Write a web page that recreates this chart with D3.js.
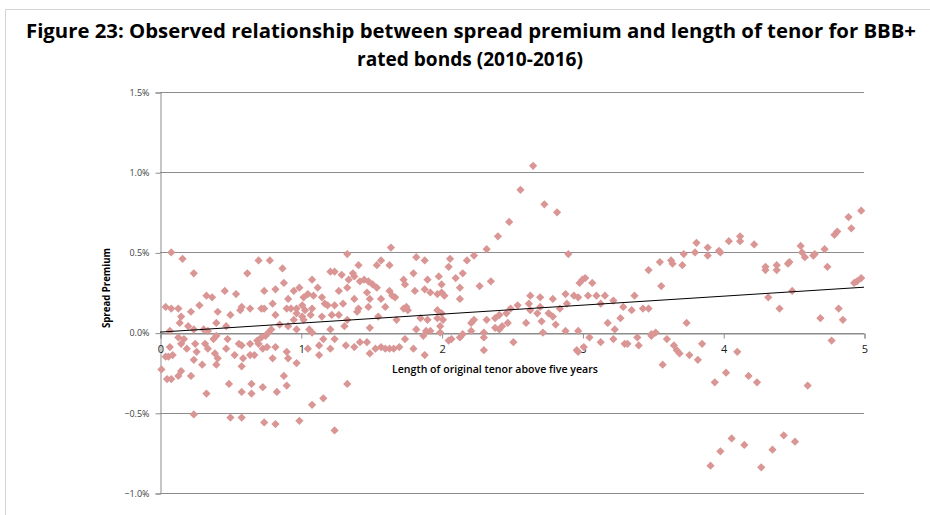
<!DOCTYPE html>
<html>
<head>
<meta charset="utf-8">
<script src="https://cdn.jsdelivr.net/npm/d3@7"></script>
<style>
  html, body { margin: 0; padding: 0; background: #ffffff; }
  svg { display: block; }
</style>
</head>
<body>
<div id="chart"></div>
<script>
// ---------- DATA ----------
const titleLines = [
  "Figure 23: Observed relationship between spread premium and length of tenor for BBB+",
  "rated bonds (2010-2016)"
];
const xAxisTitle = "Length of original tenor above five years";
const yAxisTitle = "Spread Premium";
const xTickValues = [0, 1, 2, 3, 4, 5];
const yTickValues = [-1.0, -0.5, 0.0, 0.5, 1.0, 1.5];   // percent
const trendTenor = [0, 5];
const trendPremium = [0.003, 0.283];                     // percent

// Observed bonds: [tenor above five years, spread premium in %]
const observations = [
  [0.08,0.50],[0.16,0.46],[0.24,0.37],[0.62,0.37],[0.46,0.26],[0.33,0.23],[0.37,0.22],[0.54,0.24],[0.04,0.16],[0.08,0.15],
  [0.13,0.15],[0.28,0.17],[0.22,0.13],[0.41,0.13],[0.58,0.16],[0.57,0.14],[0.64,0.15],[0.15,0.10],[0.50,0.11],[0.40,0.06],
  [0.47,0.04],[0.14,0.06],[0.07,0.01],[0.20,0.04],[0.24,0.02],[0.31,0.02],[0.34,0.01],[0.13,-0.03],[0.17,-0.04],[0.15,-0.07],
  [0.19,-0.10],[0.25,-0.07],[0.26,-0.12],[0.32,-0.07],[0.34,-0.10],[0.38,-0.04],[0.40,-0.02],[0.07,-0.09],[0.48,-0.04],[0.47,-0.10],
  [0.56,-0.07],[0.58,-0.08],[0.64,-0.07],[0.53,-0.14],[0.59,-0.16],[0.64,-0.14],[0.04,-0.15],[0.06,-0.15],[0.09,-0.14],[0.24,-0.17],
  [0.39,-0.13],[0.41,-0.16],[0.40,-0.20],[0.01,-0.23],[0.30,-0.20],[0.15,-0.24],[0.13,-0.27],[0.05,-0.29],[0.08,-0.29],[0.22,-0.27],
  [0.58,-0.21],[0.49,-0.32],[0.58,-0.37],[0.65,-0.38],[0.65,-0.32],[0.33,-0.38],[0.24,-0.51],[0.50,-0.53],[0.58,-0.53],
  [0.73,-0.34],[0.83,-0.37],[0.90,-0.33],[1.33,-0.32],[1.08,-0.45],[1.16,-0.41],[0.74,-0.56],[0.82,-0.57],[0.99,-0.55],[1.24,-0.61],
  [1.33,0.49],[0.70,0.45],[0.78,0.45],[0.87,0.40],[1.21,0.38],[1.24,0.38],[1.29,0.36],[0.88,0.31],[1.08,0.33],[0.74,0.26],
  [0.82,0.27],[0.95,0.26],[0.99,0.28],[1.12,0.28],[1.05,0.24],[1.09,0.23],[1.27,0.26],[1.33,0.28],[0.91,0.21],[1.02,0.22],
  [1.15,0.22],[0.72,0.15],[0.74,0.15],[0.80,0.18],[0.90,0.15],[0.93,0.15],[0.97,0.15],[1.01,0.17],[1.03,0.14],[1.08,0.15],
  [1.17,0.18],[1.19,0.17],[1.24,0.17],[1.30,0.18],[0.82,0.11],[0.97,0.12],[1.01,0.10],[1.07,0.11],[1.15,0.10],[1.22,0.11],
  [1.27,0.11],[1.02,0.08],[0.95,0.08],[0.85,0.05],[0.91,0.04],[0.97,0.02],[1.06,0.02],[1.21,0.02],[1.31,0.04],[0.72,-0.03],
  [0.75,-0.02],[0.77,0.00],[0.79,0.02],[0.69,-0.05],[0.70,-0.07],[0.67,-0.14],[0.73,-0.10],[0.76,-0.09],[0.82,-0.09],[0.80,-0.16],
  [0.90,-0.12],[0.91,-0.16],[0.97,-0.19],[1.05,-0.10],[1.08,0.00],[1.13,-0.08],[1.16,-0.04],[1.21,-0.10],[1.24,-0.04],[1.32,-0.08],
  [1.13,-0.14],[0.88,-0.27],
  [1.64,0.53],[1.82,0.47],[1.88,0.45],[1.54,0.42],[1.57,0.45],[1.63,0.42],[1.41,0.42],[1.80,0.37],[1.37,0.37],[1.38,0.35],
  [1.34,0.33],[1.42,0.32],[1.45,0.33],[1.48,0.32],[1.51,0.30],[1.73,0.33],[1.74,0.30],[1.90,0.33],[1.98,0.35],[2.00,0.30],
  [1.54,0.28],[1.63,0.26],[1.47,0.25],[1.49,0.21],[1.81,0.26],[1.88,0.27],[1.92,0.25],[1.97,0.24],[1.67,0.22],[1.65,0.23],
  [1.38,0.21],[1.57,0.21],[1.60,0.16],[1.75,0.16],[1.76,0.14],[1.73,0.15],[1.41,0.15],[1.40,0.13],[1.48,0.16],[1.55,0.10],
  [1.68,0.08],[1.85,0.09],[1.90,0.08],[1.97,0.09],[2.01,0.08],[1.97,0.14],[2.00,0.12],[1.33,0.08],[1.49,0.03],[1.82,0.02],
  [1.87,-0.02],[1.89,0.01],[1.92,0.01],[1.74,-0.04],[1.38,-0.09],[1.42,-0.06],[1.47,-0.06],[1.53,-0.10],[1.57,-0.09],[1.60,-0.10],
  [1.63,-0.10],[1.66,-0.10],[1.70,-0.09],[1.49,-0.13],[1.80,-0.10],[1.88,-0.14],
  [2.65,1.04],[2.56,0.89],[2.48,0.69],[2.40,0.60],[2.32,0.52],[2.23,0.48],[2.18,0.45],[2.06,0.46],[2.05,0.41],[2.10,0.34],
  [2.15,0.37],[2.27,0.29],[2.35,0.32],[2.00,0.25],[2.02,0.23],[2.13,0.28],[2.13,0.21],[2.63,0.23],[2.70,0.22],[2.54,0.17],
  [2.62,0.18],[2.63,0.14],[2.70,0.16],[2.49,0.15],[2.46,0.12],[2.41,0.11],[2.38,0.09],[2.32,0.08],[2.23,0.08],[2.21,0.06],
  [2.47,0.06],[2.60,0.06],[1.99,0.04],[2.43,0.04],[2.38,0.03],[2.41,0.02],[2.21,0.01],[2.30,0.00],[1.99,0.00],[2.30,-0.03],
  [2.15,-0.01],[2.13,-0.03],[2.07,-0.04],[2.05,-0.05],[2.51,-0.06],[2.30,-0.11],
  [2.73,0.80],[2.82,0.75],[2.90,0.49],[3.00,0.33],[3.02,0.34],[2.98,0.31],[3.07,0.31],[2.79,0.21],[2.88,0.24],[2.94,0.23],
  [2.97,0.22],[2.89,0.18],[3.04,0.23],[3.10,0.23],[3.16,0.23],[3.22,0.20],[3.13,0.18],[2.84,0.15],[2.68,0.12],[2.76,0.12],
  [2.79,0.10],[3.29,0.16],[3.35,0.14],[3.37,0.23],[2.71,0.07],[2.81,0.05],[3.27,0.09],[3.23,0.02],[3.18,0.06],[2.72,0.00],
  [2.88,0.01],[2.97,0.01],[3.05,-0.03],[3.13,-0.06],[3.22,-0.04],[3.30,-0.07],[3.32,-0.07],[2.96,-0.11],[3.01,-0.09],[2.97,-0.12],
  [3.81,0.56],[3.89,0.53],[3.97,0.51],[3.98,0.50],[4.04,0.57],[3.72,0.49],[3.80,0.50],[3.89,0.48],[3.63,0.45],[3.64,0.43],
  [3.71,0.42],[3.55,0.44],[3.47,0.39],[3.56,0.29],[3.43,0.15],[3.47,0.15],[3.74,0.06],[3.39,-0.03],[3.49,-0.01],[3.52,0.00],
  [3.49,-0.02],[3.40,-0.08],[3.60,-0.04],[3.65,-0.08],[3.67,-0.11],[3.69,-0.13],[3.85,-0.07],[3.76,-0.14],[3.82,-0.17],[3.57,-0.20],
  [4.02,-0.25],[3.94,-0.31],[3.91,-0.83],[3.98,-0.74],
  [4.12,0.60],[4.12,0.57],[4.22,0.55],[4.89,0.72],[4.98,0.76],[4.81,0.63],[4.79,0.61],[4.91,0.65],[4.55,0.54],[4.56,0.50],
  [4.58,0.47],[4.64,0.48],[4.65,0.49],[4.72,0.52],[4.74,0.41],[4.47,0.44],[4.46,0.43],[4.30,0.41],[4.30,0.39],[4.38,0.42],
  [4.38,0.39],[4.95,0.32],[4.98,0.34],[4.93,0.31],[4.49,0.26],[4.32,0.22],[4.40,0.15],[4.82,0.15],[4.85,0.08],[4.69,0.09],
  [4.77,-0.05],[4.10,-0.12],[4.18,-0.27],[4.24,-0.31],[4.60,-0.33],[4.06,-0.66],[4.15,-0.70],[4.43,-0.64],[4.51,-0.68],[4.35,-0.73],
  [4.27,-0.84]
];

// ---------- LAYOUT ----------
const W = 930, H = 515;
const plot = { left: 160, right: 864, top: 92, bottom: 493 };
const markerColor = "#d99694";
const gridColor = "#8c8c8c";
const labelFont = "'Open Sans', 'DejaVu Sans', sans-serif";

const svg = d3.select("#chart").append("svg")
  .attr("width", W).attr("height", H)
  .attr("viewBox", `0 0 ${W} ${H}`);

svg.append("rect").attr("width", W).attr("height", H).attr("fill", "#ffffff");

// faint outer frame (top and left)
svg.append("path")
  .attr("d", `M5.5,${H} L5.5,9.5 L${W},9.5`)
  .attr("fill", "none").attr("stroke", "#d4d4d4").attr("stroke-width", 1);

const x = d3.scaleLinear().domain([0, 5]).range([plot.left, plot.right]);
const y = d3.scaleLinear().domain([-1.0, 1.5]).range([plot.bottom, plot.top]);

// Title
const title = svg.append("g").attr("font-family", labelFont).attr("font-weight", 700)
  .attr("fill", "#000").attr("text-anchor", "middle");
title.append("text").attr("x", 471).attr("y", 38).attr("font-size", 20)
  .attr("textLength", 890).attr("lengthAdjust", "spacingAndGlyphs").text(titleLines[0]);
title.append("text").attr("x", 470).attr("y", 66).attr("font-size", 20)
  .attr("textLength", 226).attr("lengthAdjust", "spacingAndGlyphs").text(titleLines[1]);

// Horizontal gridlines
svg.append("g").selectAll("line").data(yTickValues).join("line")
  .attr("x1", plot.left).attr("x2", plot.right)
  .attr("y1", d => Math.round(y(d)) + 0.5).attr("y2", d => Math.round(y(d)) + 0.5)
  .attr("stroke", gridColor).attr("stroke-width", 1);

// Y axis
const yAxis = d3.axisLeft(y).tickValues(yTickValues)
  .tickFormat(d => d3.format(".1f")(d) + "%").tickSize(5).tickPadding(6);
const gy = svg.append("g").attr("transform", `translate(${plot.left + 0.5},0.5)`).call(yAxis);
gy.select(".domain").attr("stroke", gridColor);
gy.selectAll(".tick line").attr("stroke", gridColor);
gy.selectAll(".tick text").attr("font-family", labelFont).attr("font-size", 9)
  .attr("fill", "#404040");

// X axis on the 0% line
const xAxis = d3.axisBottom(x).tickValues(xTickValues).tickFormat(d3.format("d"))
  .tickSize(5).tickPadding(7);
const gx = svg.append("g").attr("transform", `translate(0.5,${Math.round(y(0)) + 0.5})`).call(xAxis);
gx.select(".domain").attr("stroke", gridColor);
gx.selectAll(".tick line").attr("stroke", gridColor);
gx.selectAll(".tick text").attr("font-family", labelFont).attr("font-size", 11)
  .attr("fill", "#1a1a1a");

// Points (diamonds)
const diamond = d3.symbol().type(d3.symbolSquare).size(34);
svg.append("g").selectAll("path").data(observations).join("path")
  .attr("d", diamond)
  .attr("transform", d => `translate(${x(d[0])},${y(d[1])}) rotate(45)`)
  .attr("fill", markerColor);

// Linear trendline
const trendData = trendTenor.map((t, i) => [t, trendPremium[i]]);
svg.append("path").datum(trendData)
  .attr("d", d3.line().x(d => x(d[0])).y(d => y(d[1])))
  .attr("fill", "none").attr("stroke", "#000").attr("stroke-width", 1);

// Axis titles
svg.append("text").attr("x", 495).attr("y", 373)
  .attr("text-anchor", "middle").attr("font-family", labelFont).attr("font-weight", 600)
  .attr("font-size", 10.5).attr("fill", "#000")
  .attr("textLength", 206).attr("lengthAdjust", "spacingAndGlyphs").text(xAxisTitle);

svg.append("text").attr("transform", "translate(110,288) rotate(-90)")
  .attr("text-anchor", "middle").attr("font-family", labelFont).attr("font-weight", 700)
  .attr("font-size", 10).attr("fill", "#000")
  .attr("textLength", 80).attr("lengthAdjust", "spacingAndGlyphs").text(yAxisTitle);
</script>
</body>
</html>
